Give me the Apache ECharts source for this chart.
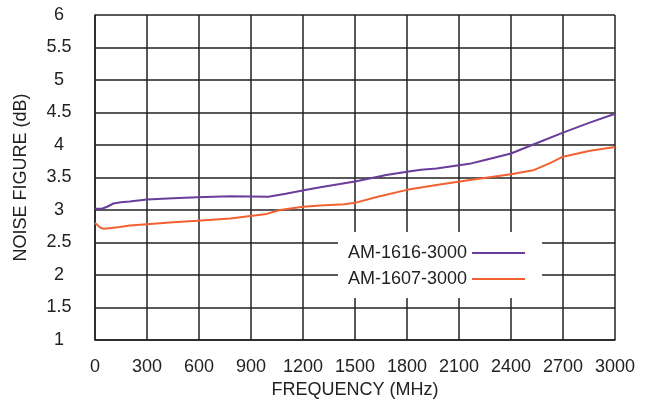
<!DOCTYPE html>
<html><head><meta charset="utf-8">
<script src="https://cdn.jsdelivr.net/npm/echarts@6/dist/echarts.min.js"></script>
<style>html,body{margin:0;padding:0;background:#fff}#c{width:647px;height:404px}</style>
</head><body><div id="c"></div>
<script>
const seriesNames = ['AM-1616-3000', 'AM-1607-3000'];
const freqA = [0, 40, 70, 106, 150, 200, 300, 450, 590, 780, 1000, 1100, 1220, 1300, 1500, 1680, 1800, 1880, 1970, 2050, 2160, 2250, 2400, 2550, 2700, 2850, 3000];
const nfA   = [3.02, 3.02, 3.05, 3.10, 3.12, 3.13, 3.16, 3.18, 3.195, 3.21, 3.205, 3.25, 3.31, 3.35, 3.44, 3.54, 3.59, 3.62, 3.64, 3.67, 3.71, 3.77, 3.87, 4.03, 4.19, 4.34, 4.48];
const freqB = [0, 30, 50, 80, 144, 200, 300, 450, 590, 780, 990, 1067, 1200, 1300, 1440, 1500, 1625, 1800, 1970, 2163, 2400, 2527, 2625, 2700, 2856, 3000];
const nfB   = [2.80, 2.73, 2.71, 2.72, 2.74, 2.76, 2.78, 2.81, 2.835, 2.87, 2.94, 3.00, 3.05, 3.07, 3.09, 3.11, 3.20, 3.31, 3.385, 3.46, 3.55, 3.61, 3.72, 3.82, 3.91, 3.97];
const xTicks = [0, 300, 600, 900, 1200, 1500, 1800, 2100, 2400, 2700, 3000];
const yTicks = [1, 1.5, 2, 2.5, 3, 3.5, 4, 4.5, 5, 5.5, 6];

const font = 'Liberation Sans, Arial, sans-serif';
const ink = '#222';
const chart = echarts.init(document.getElementById('c'), null, {renderer: 'canvas'});
chart.setOption({
  animation: false,
  backgroundColor: '#fff',
  grid: {left: 95, right: 32, top: 15, bottom: 64},
  legend: {
    data: seriesNames,
    orient: 'vertical',
    left: 338, top: 232,
    align: 'right',
    backgroundColor: '#fff',
    padding: [11, 17, 9, 10],
    itemGap: 6,
    itemWidth: 53, itemHeight: 2,
    icon: 'rect',
    textStyle: {fontFamily: font, fontSize: 18, color: ink, lineHeight: 20}
  },
  xAxis: {
    type: 'value', min: xTicks[0], max: xTicks[xTicks.length - 1], interval: 300,
    name: 'FREQUENCY (MHz)', nameLocation: 'middle', nameGap: 40,
    nameTextStyle: {fontFamily: font, fontSize: 18, color: ink},
    axisLine: {show: true, lineStyle: {color: ink, width: 1.5}},
    axisTick: {show: false},
    axisLabel: {fontFamily: font, fontSize: 18, color: ink, margin: 18,
      formatter: v => xTicks.includes(v) ? String(v) : ''},
    splitLine: {show: true, lineStyle: {color: ink, width: 1.5}}
  },
  yAxis: {
    type: 'value', min: yTicks[0], max: yTicks[yTicks.length - 1], interval: 0.5,
    name: 'NOISE FIGURE (dB)', nameLocation: 'middle', nameGap: 65,
    nameTextStyle: {fontFamily: font, fontSize: 18, color: ink},
    axisLine: {show: true, lineStyle: {color: ink, width: 1.5}},
    axisTick: {show: false},
    axisLabel: {fontFamily: font, fontSize: 18, color: ink, margin: 36, align: 'center',
      formatter: v => String(v)},
    splitLine: {show: true, lineStyle: {color: ink, width: 1.5}}
  },
  series: [
    {name: seriesNames[0], type: 'line', showSymbol: false, symbol: 'none',
     data: freqA.map((f, i) => [f, nfA[i]]),
     color: '#6a3d9a', lineStyle: {width: 2, color: '#6a3d9a'}, z: 3},
    {name: seriesNames[1], type: 'line', showSymbol: false, symbol: 'none',
     data: freqB.map((f, i) => [f, nfB[i]]),
     color: '#f26130', lineStyle: {width: 2, color: '#f26130'}, z: 3}
  ]
});
</script></body></html>
